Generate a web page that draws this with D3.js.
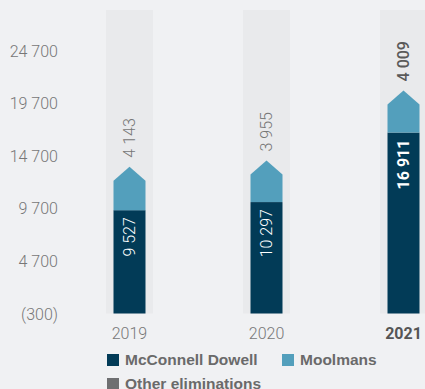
<!DOCTYPE html>
<html><head><meta charset="utf-8">
<script src="https://cdn.jsdelivr.net/npm/d3@7"></script>
<style>html,body{margin:0;padding:0;background:#f0f1f3;}svg{display:block;}</style>
</head><body>
<svg id="c" width="425" height="389"></svg>
<script>
const years = ["2019", "2020", "2021"];
const mcconnell = [9527, 10297, 16911];
const moolmans = [4143, 3955, 4009];
const yTicks = [-300, 4700, 9700, 14700, 19700, 24700];
const legendItems = ["McConnell Dowell", "Moolmans", "Other eliminations"];
const legendColors = ["#023b57", "#539fbc", "#6e6f71"];

const svg = d3.select("#c");
const font = "Roboto, Liberation Sans, Arial, sans-serif";
const lfont = "Liberation Sans, Arial, Helvetica, sans-serif";
const fmt = v => { const s = d3.format(",")(Math.abs(v)).replace(/,/g, " "); return v < 0 ? "(" + s + ")" : s; };

const y = d3.scaleLinear().domain([-300, 28570]).range([313.5, 10]);
const x = d3.scaleBand().domain(years).range([106, 427]).paddingInner(0.657).paddingOuter(0);
const bw = x.bandwidth() * 32 / 47;
const arrowH = 14;

// background bands
svg.selectAll("rect.band").data(years).join("rect")
  .attr("x", d => x(d)).attr("width", x.bandwidth())
  .attr("y", y(y.domain()[1])).attr("height", y(y.domain()[0]) - y(y.domain()[1]))
  .attr("fill", "#e9eaec");

// y axis labels
const yAxis = d3.axisLeft(y).tickValues(yTicks).tickFormat(fmt).tickSize(0).tickPadding(0);
const ga = svg.append("g").attr("transform", "translate(58,0)").call(yAxis);
ga.select(".domain").remove();
ga.selectAll("text").attr("font-family", font).attr("font-weight", 300).attr("font-size", 16).attr("fill", "#777").attr("dy", "0.35em");

const data = years.map((yr, i) => ({yr, m: mcconnell[i], o: moolmans[i], bold: i === years.length - 1}));

// McConnell bars
svg.selectAll("rect.mcd").data(data).join("rect")
  .attr("x", d => x(d.yr) + (x.bandwidth() - bw) / 2).attr("width", bw)
  .attr("y", d => y(d.m)).attr("height", d => y(-300) - y(d.m))
  .attr("fill", legendColors[0]);

// Moolmans arrows
svg.selectAll("path.moo").data(data).join("path")
  .attr("d", d => {
    const x0 = x(d.yr) + (x.bandwidth() - bw) / 2, x1 = x0 + bw, xc = x0 + bw / 2;
    const yb = y(d.m), yt = y(d.m + d.o);
    return `M${x0},${yb}L${x0},${yt + arrowH}L${xc},${yt}L${x1},${yt + arrowH}L${x1},${yb}Z`;
  })
  .attr("fill", legendColors[1]);

// labels
svg.selectAll("text.mlab").data(data).join("text")
  .attr("transform", d => `translate(${x(d.yr) + x.bandwidth() / 2},${y(d.m) + 7}) rotate(-90)`)
  .attr("text-anchor", "end").attr("dy", "0.35em")
  .attr("font-family", font).attr("font-size", 16).attr("fill", "#ffffff")
  .attr("font-weight", d => d.bold ? 700 : 300)
  .text(d => fmt(d.m));

svg.selectAll("text.olab").data(data).join("text")
  .attr("transform", d => `translate(${x(d.yr) + x.bandwidth() / 2},${y(d.m + d.o) - 9}) rotate(-90)`)
  .attr("text-anchor", "start").attr("dy", "0.35em")
  .attr("font-family", font).attr("font-size", 16)
  .attr("fill", d => d.bold ? "#5a5a5a" : "#777")
  .attr("font-weight", d => d.bold ? 500 : 300)
  .text(d => fmt(d.o));

// x labels
svg.selectAll("text.xl").data(data).join("text")
  .attr("x", d => x(d.yr) + x.bandwidth() / 2).attr("y", 333).attr("dy", "0.35em")
  .attr("text-anchor", "middle").attr("font-family", font).attr("font-size", 16)
  .attr("fill", d => d.bold ? "#555" : "#777")
  .attr("font-weight", d => d.bold ? 700 : 300)
  .text(d => d.yr);

// legend
const legPos = [[107, 360], [282, 360], [107, 384]];
const lg = svg.selectAll("g.leg").data(legendItems).join("g")
  .attr("transform", (d, i) => `translate(${legPos[i][0]},${legPos[i][1]})`);
lg.append("rect").attr("x", 0).attr("y", -6).attr("width", 12).attr("height", 12)
  .attr("fill", (d, i) => legendColors[i]);
lg.append("text").attr("x", 18).attr("y", 0).attr("dy", "0.35em")
  .attr("font-family", lfont).attr("font-size", 15.5).attr("font-weight", "bold").attr("fill", "#6a6a6a")
  .text(d => d);
</script>
</body></html>
